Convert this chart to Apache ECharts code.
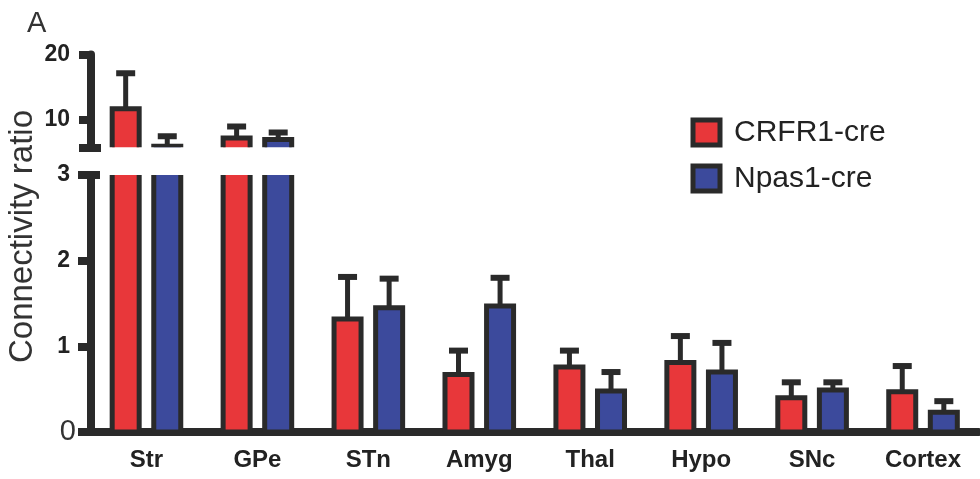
<!DOCTYPE html>
<html>
<head>
<meta charset="utf-8">
<title>Connectivity ratio</title>
<script src="https://cdn.jsdelivr.net/npm/echarts@6/dist/echarts.min.js"></script>
<style>
  html, body { margin: 0; padding: 0; background: #fff; }
  #chart { width: 980px; height: 479px; }
</style>
</head>
<body>
<div id="chart"></div>
<script>
// data
var categories = ['Str', 'GPe', 'STn', 'Amyg', 'Thal', 'Hypo', 'SNc', 'Cortex'];
var crfr1Mean = [11.7, 7.23, 1.32, 0.67, 0.76, 0.81, 0.40, 0.47];
var crfr1Sem  = [5.45, 1.77, 0.49, 0.28, 0.19, 0.31, 0.18, 0.30];
var npas1Mean = [5.95, 7.0, 1.45, 1.47, 0.48, 0.70, 0.49, 0.23];
var npas1Sem  = [1.54, 1.08, 0.34, 0.33, 0.22, 0.34, 0.09, 0.13];

// broken y axis: upper and lower segments
var highRange = [5.8, 20];
var highTicks = [10, 20];
var lowRange = [0, 3];

var INK = '#2a2a2a';
var RED = '#e8373a';
var BLUE = '#3c4a9c';
var FONT = '"Liberation Sans", Arial, sans-serif';
var BAR_W = 27;
var BAR_GAP = 0.54;

function rows(means, sems) {
  return means.map(function (m, i) { return [i, m, sems[i]]; });
}

// bar + upper whisker, drawn through the axes
function barRenderer(side, color) {
  return function (params, api) {
    var cat = api.value(0), mean = api.value(1), sem = api.value(2);
    var base = api.coord([cat, 0]);
    var top = api.coord([cat, mean]);
    var tip = api.coord([cat, mean + sem]);
    var x = base[0] + side * (BAR_W + BAR_W * BAR_GAP) / 2;
    return {
      type: 'group',
      children: [
        { type: 'line', shape: { x1: x, y1: top[1], x2: x, y2: tip[1] },
          style: { stroke: INK, lineWidth: 5 } },
        { type: 'line', shape: { x1: x - 9.5, y1: tip[1], x2: x + 9.5, y2: tip[1] },
          style: { stroke: INK, lineWidth: 6 } },
        { type: 'rect', shape: { x: x - BAR_W / 2, y: top[1], width: BAR_W, height: base[1] - top[1] },
          style: { fill: color, stroke: INK, lineWidth: 5 } }
      ]
    };
  };
}

function barSeries(name, means, sems, grid, side, color) {
  return {
    name: name,
    type: 'custom',
    xAxisIndex: grid,
    yAxisIndex: grid * 2,
    clip: true,
    itemStyle: { color: color },
    renderItem: barRenderer(side, color),
    data: rows(means, sems)
  };
}

var chart = echarts.init(document.getElementById('chart'), null, { renderer: 'canvas' });

var option = {
  animation: false,
  textStyle: { fontFamily: FONT },
  title: {
    text: 'A', left: 27, top: 9, padding: 0,
    textStyle: { fontSize: 29, fontWeight: 'normal', color: '#333', fontFamily: FONT }
  },
  legend: {
    orient: 'vertical',
    left: 690.5,
    top: 117.5,
    padding: 0,
    icon: 'rect',
    itemWidth: 27,
    itemHeight: 25,
    itemGap: 16,
    data: ['CRFR1-cre', 'Npas1-cre'],
    itemStyle: { borderColor: INK, borderWidth: 5 },
    textStyle: { fontSize: 30, color: '#222', fontFamily: FONT, lineHeight: 25, padding: [0, 0, 0, 9] }
  },
  graphic: [{
    type: 'text',
    x: 23, y: 236.5,
    rotation: Math.PI / 2,
    style: {
      text: 'Connectivity ratio',
      fontSize: 33, fontFamily: FONT, fill: '#333',
      align: 'center', verticalAlign: 'middle',
      textAlign: 'center', textVerticalAlign: 'middle'
    }
  }],
  grid: [
    { left: 91, right: 1.5, top: 54.5, height: 92.8 },
    { left: 91, right: 1.5, top: 175, height: 257 }
  ],
  xAxis: [
    { gridIndex: 0, type: 'category', data: categories, show: false },
    {
      gridIndex: 1, type: 'category', data: categories,
      axisLine: { lineStyle: { color: INK, width: 8 } },
      axisTick: { alignWithLabel: true, length: 10, lineStyle: { color: INK, width: 9 } },
      axisLabel: { margin: 16, fontSize: 24, fontWeight: 'bold', color: '#222', fontFamily: FONT }
    }
  ],
  yAxis: [
    {
      gridIndex: 0, type: 'value', position: 'left',
      min: highRange[0], max: highRange[1],
      splitLine: { show: false },
      axisLine: { show: true, lineStyle: { color: INK, width: 8 } },
      axisTick: { show: true, length: 12, customValues: [highRange[0]].concat(highTicks),
        lineStyle: { color: INK, width: 8 } },
      axisLabel: { customValues: highTicks, margin: 21, fontSize: 23, fontWeight: 'bold',
        color: '#222', fontFamily: FONT }
    },
    {
      gridIndex: 0, type: 'value', position: 'left',
      min: highRange[0], max: highRange[1],
      splitLine: { show: false },
      axisLine: { show: false },
      axisLabel: { show: false },
      axisTick: { show: true, inside: true, length: 10, customValues: [highRange[0]],
        lineStyle: { color: INK, width: 8 } }
    },
    {
      gridIndex: 1, type: 'value', position: 'left',
      min: lowRange[0], max: lowRange[1], interval: 1,
      splitLine: { show: false },
      axisLine: { show: true, lineStyle: { color: INK, width: 8 } },
      axisTick: { show: true, length: 13, lineStyle: { color: INK, width: 8 } },
      axisLabel: {
        margin: 15, fontFamily: FONT,
        formatter: function (v) { return v === 0 ? '{z|0}' : '{b|' + v + '}'; },
        rich: {
          z: { fontSize: 29, fontWeight: 'normal', color: '#333', fontFamily: FONT },
          b: { fontSize: 23, fontWeight: 'bold', color: '#222', fontFamily: FONT, padding: [0, 6, 0, 0] }
        }
      }
    },
    {
      gridIndex: 1, type: 'value', position: 'left',
      min: lowRange[0], max: lowRange[1],
      splitLine: { show: false },
      axisLine: { show: false },
      axisLabel: { show: false },
      axisTick: { show: true, inside: true, length: 9, customValues: [lowRange[1]],
        lineStyle: { color: INK, width: 8 } }
    }
  ],
  series: [
    barSeries('CRFR1-cre', crfr1Mean, crfr1Sem, 0, -1, RED),
    barSeries('Npas1-cre', npas1Mean, npas1Sem, 0, 1, BLUE),
    barSeries('CRFR1-cre', crfr1Mean, crfr1Sem, 1, -1, RED),
    barSeries('Npas1-cre', npas1Mean, npas1Sem, 1, 1, BLUE)
  ]
};

chart.setOption(option);
</script>
</body>
</html>
